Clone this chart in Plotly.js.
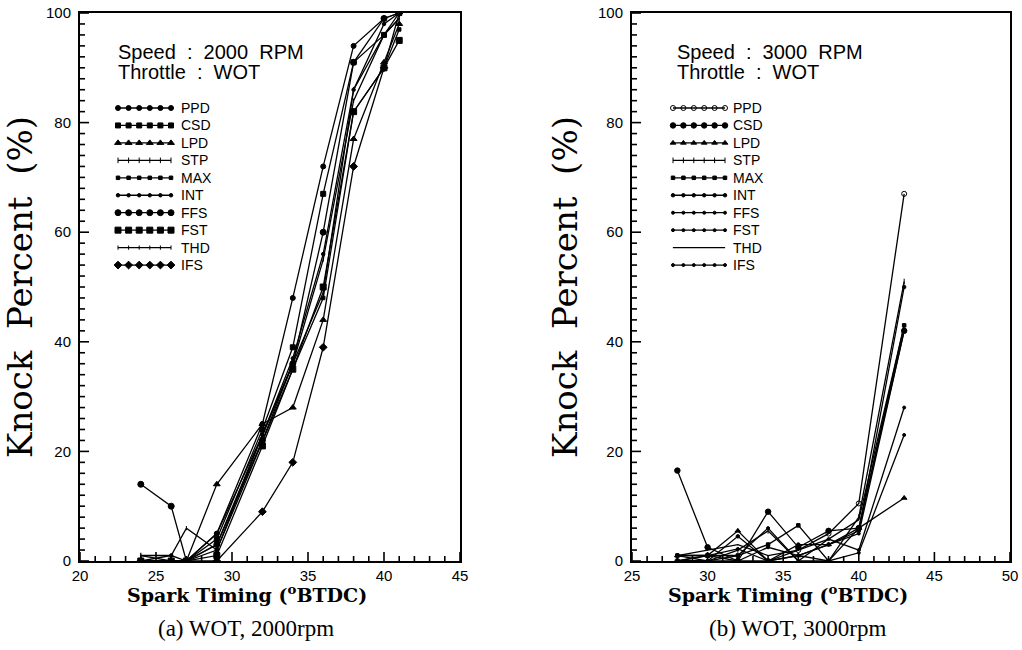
<!DOCTYPE html>
<html>
<head>
<meta charset="utf-8">
<script src="https://cdn.plot.ly/plotly-3.0.1.min.js"></script>
<style>html,body{margin:0;padding:0;background:#fff;}#chart{width:1022px;height:650px;}</style>
</head>
<body>
<div id="chart"></div>
<script>
// ---------- DATA ----------
const seriesNames = ["PPD", "CSD", "LPD", "STP", "MAX", "INT", "FFS", "FST", "THD", "IFS"];

// (a) WOT, 2000 rpm
const timing2000 = [24, 26, 27, 29, 32, 34, 36, 38, 40, 41];
const ppd2000 = [0, 0, 0, 5, 25, 48, 72, 94, 99, 100];
const csd2000 = [0, 0, 0, 4, 24, 39, 67, 91, 96, 100];
const lpd2000 = [0, 0, 0, 14, 25, 28, 44, 77, 91, 98];
const stp2000 = [1, 0, 0, 3, 23, 36, 49, 86, 96, 99];
const max2000 = [0, 0, 0, 2, 22, 35, 48, 82, 90, 97];
const int2000 = [0, 1, 0, 5, 23, 37, 56, 86, 98, 100];
const ffs2000 = [14, 10, 0, 3, 22, 36, 60, 91, 99, 100];
const fst2000 = [0, 0, 0, 1, 21, 35, 50, 82, 90, 95];
const thd2000 = [1, 1, 6, 2, 23, 36, 55, 84, 96, 99];
const ifs2000 = [0, 0, 0, 0, 9, 18, 39, 72, 90, 100];

// (b) WOT, 3000 rpm
const timing3000 = [28, 30, 32, 34, 36, 38, 40, 43];
const ppd3000 = [0, 1, 0, 0, 2, 5, 10.5, 67];
const csd3000 = [16.5, 2.5, 0, 9, 2.5, 5.5, 6, 42];
const lpd3000 = [1, 1, 5.5, 0, 1, 3, 6, 11.5];
const stp3000 = [0, 0, 2, 5.5, 0, 0, 8, 51];
const max3000 = [1, 1, 1, 3, 6.5, 0, 6, 43];
const int3000 = [0, 0, 4.5, 0, 3, 3, 5.5, 50];
const ffs3000 = [1, 0, 1, 6, 0, 4, 2, 28];
const fst3000 = [0, 1, 2.2, 0, 1, 0, 1.5, 23];
const thd3000 = [1, 2, 3, 1, 2, 4, 7.5, 43];
const ifs3000 = [0, 0, 0, 2.5, 1, 3, 5, 42];

const yTicks = [0, 20, 40, 60, 80, 100];
const xRangeA = [20, 45];
const xRangeB = [25, 50];
const yRange = [0, 100];

// ---------- STYLES ----------
const styleA = [
  {symbol: "circle", size: 5},
  {symbol: "square", size: 5},
  {symbol: "triangle-up", size: 6},
  {symbol: "line-ns-open", size: 4},
  {symbol: "square", size: 3.5},
  {symbol: "circle", size: 3.5},
  {symbol: "circle", size: 6},
  {symbol: "square", size: 6},
  {symbol: "line-ns-open", size: 3},
  {symbol: "diamond", size: 6}
];
const styleB = [
  {symbol: "circle-open", size: 5},
  {symbol: "circle", size: 5.5},
  {symbol: "triangle-up", size: 5},
  {symbol: "line-ns-open", size: 4},
  {symbol: "square", size: 3.5},
  {symbol: "circle", size: 3.5},
  {symbol: "circle", size: 3},
  {symbol: "circle", size: 3},
  {symbol: "circle", size: 0.1},
  {symbol: "circle", size: 3}
];

const vals2000 = [ppd2000, csd2000, lpd2000, stp2000, max2000, int2000, ffs2000, fst2000, thd2000, ifs2000];
const vals3000 = [ppd3000, csd3000, lpd3000, stp3000, max3000, int3000, ffs3000, fst3000, thd3000, ifs3000];

// ---------- GEOMETRY (pixels of the 1022x650 page) ----------
const W = 1022, H = 650, ML = 80, MR = 12, MT = 13, MB = 89;
const PW = W - ML - MR, PH = H - MT - MB;
const px = v => (v - ML) / PW;
const py = v => 1 - (v - MT) / PH;
const boxA = {x0: 80, x1: 460}, boxB = {x0: 632, x1: 1010};
const pxToX = (box, r, p) => r[0] + (p - box.x0) / (box.x1 - box.x0) * (r[1] - r[0]);
const pyToY = p => yRange[0] + (561 - p) / (561 - 13) * (yRange[1] - yRange[0]);
const legendRowPx = i => 108 + i * 17.45;
const sampleSteps = [0, 1, 2, 3, 4, 5];

const traces = [];

// inside tick marks (drawn first, as thin segments scaled from pixel lengths)
function tickTrace(box, r, xa, ya) {
  const xPerPx = (r[1] - r[0]) / (box.x1 - box.x0);
  const yPerPx = (yRange[1] - yRange[0]) / (561 - 13);
  const tx = [], ty = [];
  for (let v = r[0]; v <= r[1]; v += 1) {
    const len = (v % 5 === 0 ? 9 : 5) * yPerPx;
    tx.push(v, v, null); ty.push(yRange[0], yRange[0] + len, null);
  }
  for (let v = yRange[0]; v <= yRange[1]; v += 2) {
    const len = (v % 20 === 0 ? 9 : 5) * xPerPx;
    tx.push(r[0], r[0] + len, null); ty.push(v, v, null);
  }
  traces.push({type: "scatter", mode: "lines", x: tx, y: ty, xaxis: xa, yaxis: ya,
    line: {color: "#000", width: 1.6}, connectgaps: false, showlegend: false, hoverinfo: "skip", cliponaxis: false});
}
tickTrace(boxA, xRangeA, "x", "y");
tickTrace(boxB, xRangeB, "x2", "y2");

function addSeries(xs, ys, st, xa, ya, name) {
  traces.push({
    type: "scatter", mode: "lines+markers", x: xs, y: ys, xaxis: xa, yaxis: ya, name: name,
    line: {color: "#000", width: 1.3},
    marker: {color: "#000", symbol: st.symbol, size: st.size, line: {color: "#000", width: 1}},
    showlegend: false, hoverinfo: "skip"
  });
}
seriesNames.forEach((n, i) => {
  addSeries(timing2000, vals2000[i], styleA[i], "x", "y", n);
  addSeries(timing3000, vals3000[i], styleB[i], "x2", "y2", n);
});
// in-plot key samples
seriesNames.forEach((n, i) => {
  const yy = pyToY(legendRowPx(i));
  addSeries(sampleSteps.map(k => pxToX(boxA, xRangeA, 118 + k * 10.6)), sampleSteps.map(() => yy), styleA[i], "x", "y", n);
  addSeries(sampleSteps.map(k => pxToX(boxB, xRangeB, 673 + k * 10.4)), sampleSteps.map(() => yy), styleB[i], "x2", "y2", n);
});

const tickFont = {family: "Liberation Sans, Arial, sans-serif", size: 15, color: "#000"};
const xTitleFont = {family: "DejaVu Serif, serif", size: 19, color: "#000", weight: "bold"};
const yTitleFont = {family: "DejaVu Serif, serif", size: 34, color: "#000"};

function xAxis(dom, r, anchor) {
  return {
    domain: dom, range: r, tickvals: [r[0], r[0] + 5, r[0] + 10, r[0] + 15, r[0] + 20, r[1]], ticks: "",
    showline: true, linewidth: 2, linecolor: "#000", mirror: true, anchor: anchor,
    showgrid: false, zeroline: false, tickfont: tickFont, ticklabelstandoff: 0
  };
}
function yAxis(anchor) {
  return {
    domain: [0, 1], range: yRange, tickvals: yTicks, ticks: "",
    showline: true, linewidth: 2, linecolor: "#000", mirror: true, anchor: anchor,
    showgrid: false, zeroline: false, tickfont: tickFont, ticklabelstandoff: 4,
    title: {text: "Knock  Percent  (%)", font: yTitleFont, standoff: 10}
  };
}

const annFont = {family: "Liberation Sans, Arial, sans-serif", size: 20, color: "#000"};
const legFont = {family: "Liberation Sans, Arial, sans-serif", size: 14, color: "#000"};
const capFont = {family: "Liberation Serif, Times New Roman, serif", size: 23, color: "#000"};

const annotations = [
  {text: "Speed  :  2000  RPM", x: px(116), y: py(52), xref: "paper", yref: "paper", xanchor: "left", yanchor: "middle", showarrow: false, font: annFont},
  {text: "Throttle  :  WOT", x: px(116), y: py(72), xref: "paper", yref: "paper", xanchor: "left", yanchor: "middle", showarrow: false, font: annFont},
  {text: "Speed  :  3000  RPM", x: px(675), y: py(52), xref: "paper", yref: "paper", xanchor: "left", yanchor: "middle", showarrow: false, font: annFont},
  {text: "Throttle  :  WOT", x: px(675), y: py(72), xref: "paper", yref: "paper", xanchor: "left", yanchor: "middle", showarrow: false, font: annFont},
  {text: "Spark Timing (<sup>o</sup>BTDC)", x: px(247), y: py(594), xref: "paper", yref: "paper", xanchor: "center", yanchor: "middle", showarrow: false, font: xTitleFont},
  {text: "Spark Timing (<sup>o</sup>BTDC)", x: px(788), y: py(594), xref: "paper", yref: "paper", xanchor: "center", yanchor: "middle", showarrow: false, font: xTitleFont},
  {text: "(a) WOT, 2000rpm", x: px(246), y: py(628), xref: "paper", yref: "paper", xanchor: "center", yanchor: "middle", showarrow: false, font: capFont},
  {text: "(b) WOT, 3000rpm", x: px(797), y: py(628), xref: "paper", yref: "paper", xanchor: "center", yanchor: "middle", showarrow: false, font: capFont}
];
seriesNames.forEach((n, i) => {
  const yy = pyToY(legendRowPx(i));
  annotations.push({text: n, x: pxToX(boxA, xRangeA, 179), y: yy, xref: "x", yref: "y", xanchor: "left", yanchor: "middle", showarrow: false, font: legFont});
  annotations.push({text: n, x: pxToX(boxB, xRangeB, 731), y: yy, xref: "x2", yref: "y2", xanchor: "left", yanchor: "middle", showarrow: false, font: legFont});
});

const layout = {
  width: W, height: H,
  margin: {l: ML, r: MR, t: MT, b: MB, pad: 0},
  paper_bgcolor: "#fff", plot_bgcolor: "#fff",
  showlegend: false,
  xaxis: xAxis([0, px(boxA.x1)], xRangeA, "y"),
  yaxis: yAxis("x"),
  xaxis2: xAxis([px(boxB.x0), 1], xRangeB, "y2"),
  yaxis2: yAxis("x2"),
  annotations: annotations
};

Plotly.newPlot("chart", traces, layout, {displayModeBar: false, staticPlot: true});
</script>
</body>
</html>
